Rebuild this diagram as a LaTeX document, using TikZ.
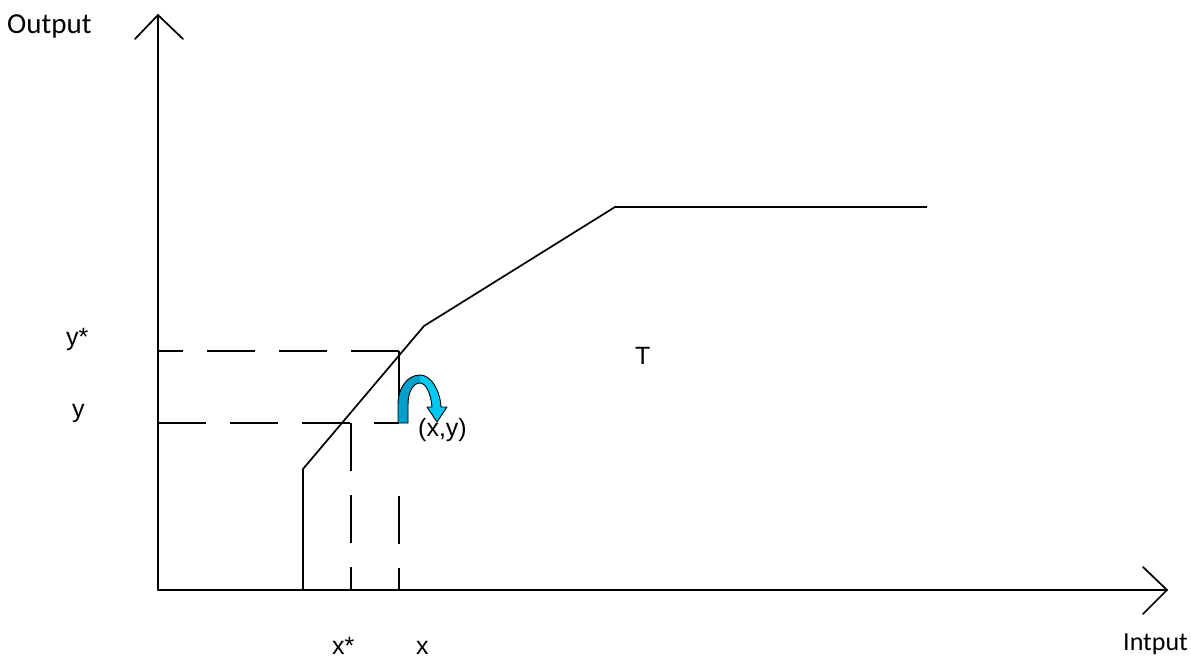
\documentclass[tikz,border=0pt]{standalone}
\usepackage{fontspec}
\setmainfont{Liberation Sans}
\newfontfamily\calib{Carlito}
\definecolor{arrowlight}{RGB}{0,200,240}
\definecolor{arrowdark}{RGB}{0,160,205}
\begin{document}
\begin{tikzpicture}[x=1pt,y=-1pt,
  axis/.style={line width=1.7pt,line cap=round},
  curve/.style={line width=1.7pt,line join=miter},
  guide/.style={line width=1.7pt,dash pattern=on 48pt off 24pt},
  lbl/.style={inner sep=0pt,anchor=base west,font=\fontsize{25}{29}\selectfont},
  albl/.style={inner sep=0pt,anchor=base west}]
\useasboundingbox (0,0) rectangle (1191,664);
% axes
\coordinate (O) at (158,590);
\coordinate (Ytop) at (158,15);
\coordinate (Xend) at (1167,590);
\draw[axis] (O) -- (Ytop);
\draw[axis] (135,39) -- (Ytop) -- (183,39);
\draw[axis] (O) -- (Xend);
\draw[axis] (1143,567) -- (Xend) -- (1143,614);
% frontier
\coordinate (c0) at (303,590);
\coordinate (c1) at (303,469);
\coordinate (c2) at (424,326);
\coordinate (c3) at (615,207);
\coordinate (c4) at (927,207);
\draw[curve] (c0) -- (c1) -- (c2) -- (c3) -- (c4);
% guides
\coordinate (ys0) at (158,351);
\coordinate (ys1) at (399,351);
\coordinate (ys2) at (399,398);
\coordinate (y0) at (158,423);
\coordinate (y1) at (399,423);
\coordinate (xs0) at (351,423);
\coordinate (xs1) at (351,590);
\coordinate (x0) at (399,496);
\coordinate (x1) at (399,590);
\draw[guide,dash phase=23pt] (ys0) -- (ys1);
\draw[line width=1.7pt] (ys1) -- (ys2);
\draw[guide] (y0) -- (y1);
\draw[guide] (xs0) -- (xs1);
\draw[guide] (x0) -- (x1);
% curved arrow
\fill[arrowlight] (398,423) -- (398,405) .. controls (398,387) and (408,375) .. (420,375)
  .. controls (431,375) and (440,390) .. (441,407) -- (447,407) -- (437,422) -- (427,407)
  -- (432,407) .. controls (431,394) and (426,383) .. (420,383)
  .. controls (413,383) and (408,392) .. (408,405) -- (408,423) -- cycle;
\fill[arrowdark] (398,423) -- (398,405) .. controls (398,387) and (408,375) .. (420,375)
  -- (420,383) .. controls (413,383) and (408,392) .. (408,405) -- (408,423) -- cycle;
\draw[line width=0.9pt,line join=round] (398,423) -- (398,405) .. controls (398,387) and (408,375) .. (420,375)
  .. controls (431,375) and (440,390) .. (441,407) -- (447,407) -- (437,422) -- (427,407)
  -- (432,407) .. controls (431,394) and (426,383) .. (420,383)
  .. controls (413,383) and (408,392) .. (408,405) -- (408,423) -- cycle;
% labels
\node[albl,font=\calib\fontsize{29}{33}\selectfont] (out) at (7,33) {Output};
\node[albl,font=\calib\fontsize{26}{30}\selectfont] (inp) at (1123,650) {Intput};
\node[lbl] (ystar) at (66,345) {y*};
\node[lbl] (ylab) at (72,417) {y};
\node[lbl] (xstar) at (332,654) {x*};
\node[lbl] (xlab) at (416,654) {x};
\node[lbl] (T) at (635,364) {T};
\node[lbl] (pt) at (418,436) {(x,y)};
\end{tikzpicture}
\end{document}
